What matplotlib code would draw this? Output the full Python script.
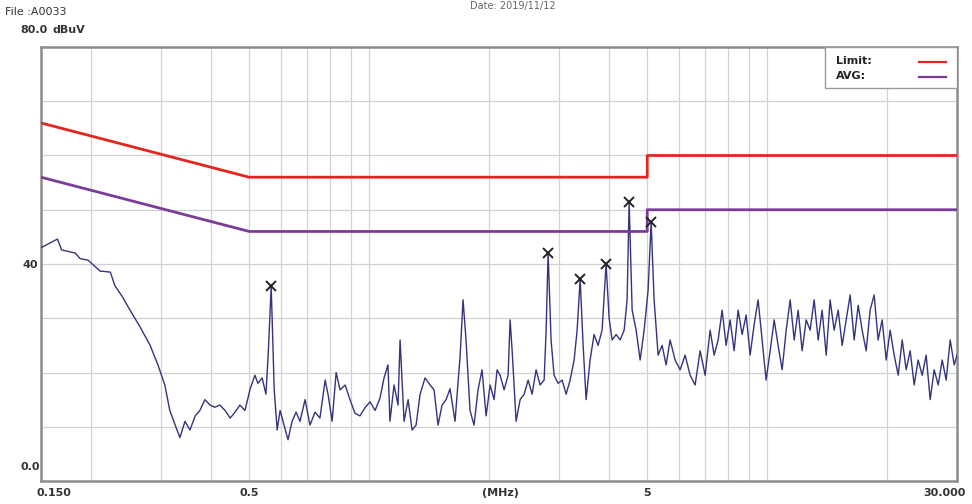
import matplotlib
matplotlib.use("Agg")
import matplotlib.pyplot as plt
from matplotlib.patches import Rectangle
from matplotlib.lines import Line2D

# Conducted emission scan, 0.15 - 30 MHz
freq_mhz = [
    0.150, 0.165, 0.169, 0.183, 0.188, 0.197, 0.211, 0.224, 0.230, 0.240,
    0.251, 0.266, 0.282, 0.295, 0.307, 0.316, 0.326, 0.335, 0.345, 0.355,
    0.366, 0.376, 0.387, 0.399, 0.410, 0.422, 0.435, 0.448, 0.461, 0.474,
    0.488, 0.503, 0.517, 0.526, 0.539, 0.551, 0.558, 0.568, 0.578, 0.588,
    0.598, 0.612, 0.626, 0.641, 0.656, 0.671, 0.691, 0.711, 0.732, 0.753,
    0.776, 0.789, 0.808, 0.827, 0.846, 0.871, 0.896, 0.922, 0.949, 0.977,
    1.006, 1.036, 1.066, 1.091, 1.116, 1.129, 1.156, 1.183, 1.197, 1.225,
    1.254, 1.283, 1.313, 1.344, 1.383, 1.424, 1.457, 1.491, 1.526, 1.562,
    1.598, 1.645, 1.694, 1.723, 1.753, 1.794, 1.836, 1.879, 1.923, 1.969,
    2.015, 2.062, 2.098, 2.135, 2.185, 2.236, 2.262, 2.289, 2.342, 2.397,
    2.453, 2.511, 2.569, 2.629, 2.691, 2.754, 2.786, 2.818, 2.867, 2.917,
    2.986, 3.056, 3.128, 3.201, 3.276, 3.333, 3.392, 3.451, 3.511, 3.593,
    3.677, 3.763, 3.851, 3.941, 4.011, 4.081, 4.177, 4.275, 4.375, 4.451,
    4.503, 4.582, 4.689, 4.799, 4.911, 5.026, 5.114, 5.203, 5.325, 5.449,
    5.577, 5.707, 5.875, 6.048, 6.225, 6.408, 6.596, 6.790, 6.989, 7.194,
    7.363, 7.535, 7.711, 7.891, 8.076, 8.265, 8.459, 8.657, 8.860, 9.066,
    9.279, 9.495, 9.718, 9.945, 10.18, 10.42, 10.66, 10.91, 11.17, 11.43,
    11.70, 11.97, 12.25, 12.54, 12.83, 13.13, 13.44, 13.75, 14.08, 14.40,
    14.74, 15.09, 15.44, 15.80, 16.17, 16.55, 16.94, 17.33, 17.74, 18.15,
    18.58, 19.01, 19.46, 19.92, 20.38, 20.86, 21.35, 21.85, 22.36, 22.88,
    23.42, 23.96, 24.53, 25.10, 25.69, 26.29, 26.91, 27.54, 28.18, 28.84,
    29.52, 30.00,
]
level_dbuv = [
    43.0, 44.6, 42.6, 42.0, 41.0, 40.7, 38.7, 38.5, 36.0, 34.0,
    31.5, 28.4, 25.0, 21.4, 17.7, 13.0, 10.3, 8.0, 11.0, 9.4,
    12.0, 13.0, 15.0, 14.0, 13.6, 14.0, 13.0, 11.6, 12.7, 14.0,
    13.0, 17.0, 19.5, 18.0, 19.0, 16.0, 23.0, 35.9, 16.8, 9.4,
    13.0, 10.3, 7.6, 11.0, 12.7, 11.0, 15.0, 10.3, 12.7, 11.6,
    18.6, 16.0, 11.0, 20.0, 16.8, 17.7, 15.0, 12.5, 12.0, 13.5,
    14.6, 13.0, 15.3, 19.0, 21.4, 11.0, 17.7, 14.0, 26.0, 11.0,
    15.0, 9.4, 10.3, 16.0, 19.0, 17.7, 16.8, 10.3, 14.0, 15.0,
    17.0, 11.0, 23.0, 33.4, 26.0, 13.0, 10.3, 16.8, 20.5, 12.0,
    17.7, 15.0, 20.5, 19.5, 16.8, 19.5, 29.7, 24.0, 11.0, 15.0,
    16.0, 18.6, 16.0, 20.5, 17.7, 18.6, 27.8, 42.0, 26.0, 19.5,
    18.0, 18.6, 16.0, 18.6, 22.3, 27.8, 37.2, 25.0, 15.0, 22.3,
    27.0, 25.0, 27.8, 40.0, 30.0, 26.0, 27.0, 26.0, 27.8, 33.4,
    51.4, 31.5, 27.8, 22.3, 27.8, 35.2, 47.7, 33.4, 23.2, 25.0,
    21.4, 26.0, 22.3, 20.5, 23.2, 19.5, 17.7, 24.0, 19.5, 27.8,
    23.2, 26.0, 31.5, 25.0, 29.7, 24.0, 31.5, 27.0, 30.6, 23.2,
    28.8, 33.4, 26.0, 18.6, 24.0, 29.7, 25.0, 20.5, 27.8, 33.4,
    26.0, 31.5, 24.0, 29.7, 27.8, 33.4, 26.0, 31.5, 23.2, 33.4,
    27.8, 31.5, 25.0, 29.7, 34.3, 26.0, 32.4, 27.8, 24.0, 31.5,
    34.3, 26.0, 29.7, 22.3, 27.8, 23.2, 19.5, 26.0, 20.5, 24.0,
    17.7, 22.3, 19.5, 23.2, 15.0, 20.5, 17.7, 22.3, 18.6, 26.0,
    21.4, 23.2,
]

# Limit lines (quasi-peak and average)
limit_freq = [0.15, 0.5, 5.0, 5.0, 30.0]
limit_qp = [66.0, 56.0, 56.0, 60.0, 60.0]
limit_avg = [56.0, 46.0, 46.0, 50.0, 50.0]

# Marked peaks
peak_freq = [0.568, 2.818, 3.392, 3.941, 4.503, 5.114]
peak_level = [35.9, 42.0, 37.2, 40.0, 51.4, 47.7]

x_tick_vals = [0.15, 0.5, 5.0, 30.0]
x_tick_text = ["0.150", "0.5", "5", "30.000"]

red = "#e3261f"
purple = "#7a3c98"
trace_col = "#34347e"

fig = plt.figure(figsize=(9.72, 5.04), dpi=100)
ax = fig.add_axes([41 / 972, 1 - 481 / 504, 916 / 972, 434 / 504])

ax.set_xscale("log")
ax.set_xlim(0.15, 30.0)
ax.set_ylim(0, 80)

# grid
minor_lines = [0.2, 0.3, 0.4, 0.5, 0.6, 0.7, 0.8, 0.9, 1, 2, 3, 4, 5, 6, 7, 8, 9, 10, 20]
for f in minor_lines:
    ax.axvline(f, color="#d2d2d2", lw=0.9, zorder=0)
for y in range(10, 80, 10):
    ax.axhline(y, color="#d2d2d2", lw=0.9, zorder=0)

ax.set_xticks([])
ax.set_yticks([])
ax.minorticks_off()
for s in ax.spines.values():
    s.set_color("#8c8c8c")
    s.set_linewidth(1.8)

ax.plot(freq_mhz, level_dbuv, color=trace_col, lw=1.0, zorder=3)
ax.plot(limit_freq, limit_qp, color=red, lw=2.0, zorder=4)
ax.plot(limit_freq, limit_avg, color=purple, lw=2.0, zorder=4)
ax.plot(peak_freq, peak_level, linestyle="none", marker="x", color="#222222",
        markersize=7, markeredgewidth=1.4, zorder=5)

# legend box
ax.add_patch(Rectangle((0.856, 0.905), 0.144, 0.095, transform=ax.transAxes,
                       facecolor="white", edgecolor="#9a9a9a", lw=1.0, zorder=6))
ax.text(0.868, 0.968, "Limit:", transform=ax.transAxes, fontsize=8,
        va="center", ha="left", zorder=7, fontweight="bold", color="#222222")
ax.text(0.868, 0.933, "AVG:", transform=ax.transAxes, fontsize=8,
        va="center", ha="left", zorder=7, fontweight="bold", color="#222222")
ax.add_line(Line2D([0.958, 0.988], [0.966, 0.966], transform=ax.transAxes,
                   color=red, lw=1.6, zorder=7))
ax.add_line(Line2D([0.958, 0.988], [0.931, 0.931], transform=ax.transAxes,
                   color=purple, lw=1.6, zorder=7))

# axis labels as plain text
lab = dict(fontsize=8, fontweight="bold", color="#333333")
fig.text(20 / 972, 1 - 30 / 504, "80.0", ha="left", va="center", **lab)
fig.text(52 / 972, 1 - 30 / 504, "dBuV", ha="left", va="center", **lab)
fig.text(22 / 972, 1 - 265 / 504, "40", ha="left", va="center", **lab)
fig.text(20 / 972, 1 - 467 / 504, "0.0", ha="left", va="center", **lab)
for v, t in zip(x_tick_vals, x_tick_text):
    xd = ax.transData.transform((v, 0))[0] / fig.bbox.width
    ha = "center"
    if v == 30.0:
        xd = 966 / 972
        ha = "right"
    if v == 0.15:
        xd = 54 / 972
    fig.text(xd, 1 - 493 / 504, t, ha=ha, va="center", **lab)
fig.text(500 / 972, 1 - 493 / 504, "(MHz)", ha="center", va="center", **lab)

fig.text(5 / 972, 1 - 12 / 504, "File :A0033", ha="left", va="center",
         fontsize=8, color="#333333")
fig.text(470 / 972, 1 - 6 / 504, "Date: 2019/11/12", ha="left", va="center",
         fontsize=7, color="#666666")

fig.savefig("out.png", dpi=100, facecolor="white")
